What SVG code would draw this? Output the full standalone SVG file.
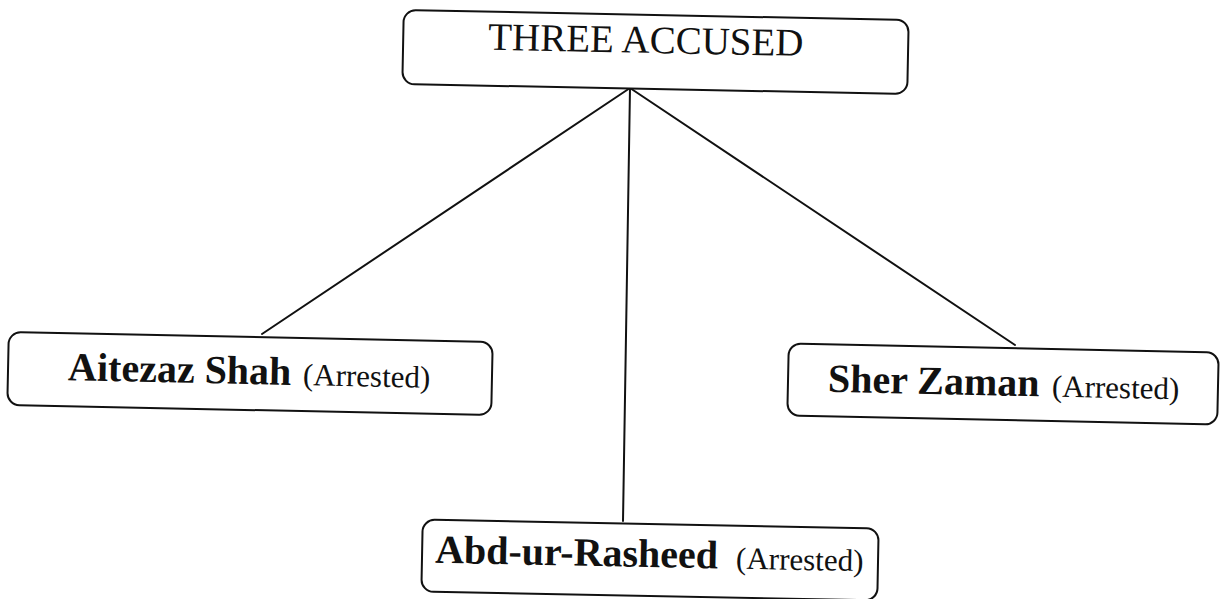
<svg xmlns="http://www.w3.org/2000/svg" width="1222" height="599" viewBox="0 0 1222 599">
<style>
.box{fill:#fff;stroke:#111;stroke-width:2}
.conn{stroke:#111;stroke-width:2;fill:none;stroke-linecap:round}
.t{font-family:"Liberation Serif","Times New Roman",serif;fill:#111}
.title{font-size:39px}
.name{font-size:40px;font-weight:bold}
.note{font-size:31px;font-weight:normal}
</style>
<rect width="1222" height="599" fill="#fff"/>
<g id="connectors">
<line class="conn" x1="630" y1="88" x2="262" y2="334"/>
<line class="conn" x1="630" y1="88" x2="623" y2="521"/>
<line class="conn" x1="630" y1="88" x2="1015" y2="345"/>
</g>
<g id="node-three-accused" transform="rotate(1.13 655.5 52)">
<rect class="box" x="403" y="15" width="505" height="74" rx="12"/>
<text class="t title" x="488" y="53">THREE ACCUSED</text>
</g>
<g id="node-aitezaz-shah" transform="rotate(1.18 250 373.5)">
<rect class="box" x="8" y="337" width="484" height="73" rx="12"/>
<text class="t" y="384"><tspan class="name" x="68">Aitezaz Shah</tspan><tspan class="note" x="303">(Arrested)</tspan></text>
</g>
<g id="node-sher-zaman" transform="rotate(1.2 1003 384)">
<rect class="box" x="788" y="348" width="430" height="72" rx="12"/>
<text class="t" y="395.5"><tspan class="name" x="828">Sher Zaman</tspan><tspan class="note" x="1052">(Arrested)</tspan></text>
</g>
<g id="node-abd-ur-rasheed" transform="rotate(1.1 650 560)">
<rect class="box" x="422" y="524" width="456" height="72" rx="12"/>
<text class="t" y="567"><tspan class="name" x="435">Abd-ur-Rasheed</tspan><tspan class="note" x="736">(Arrested)</tspan></text>
</g>
</svg>
